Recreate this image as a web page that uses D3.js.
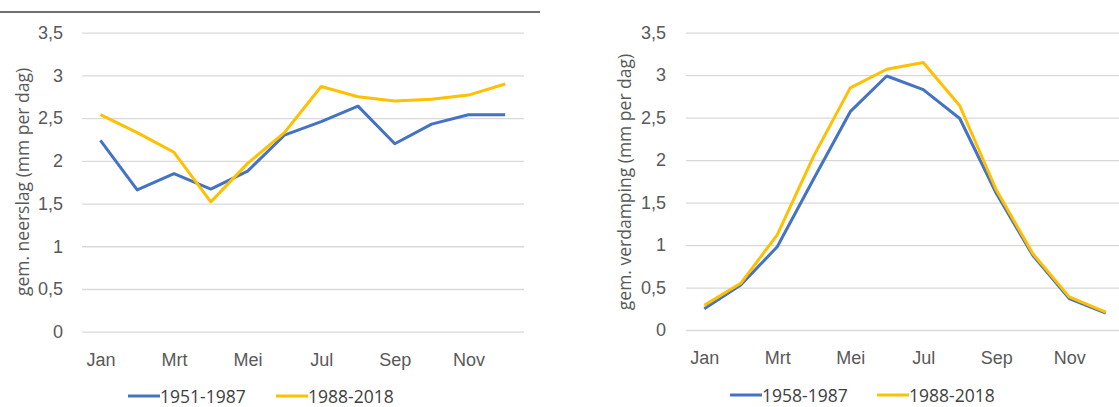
<!DOCTYPE html>
<html>
<head>
<meta charset="utf-8">
<script src="https://cdn.jsdelivr.net/npm/d3@7"></script>
<style>
  body { margin: 0; background: #fff; }
  svg { display: block; font-family: "Open Sans", sans-serif; }
</style>
</head>
<body>
<svg id="chart" width="1119" height="407"></svg>
<script>
const months = ["Jan", "Feb", "Mrt", "Apr", "Mei", "Jun", "Jul", "Aug", "Sep", "Okt", "Nov", "Dec"];
const shownMonths = ["Jan", "Mrt", "Mei", "Jul", "Sep", "Nov"];
const yTicks = [0, 0.5, 1, 1.5, 2, 2.5, 3, 3.5];

// neerslag
const rainOld = [2.24, 1.66, 1.85, 1.67, 1.88, 2.30, 2.46, 2.64, 2.20, 2.43, 2.54, 2.54];
const rainNew = [2.54, 2.33, 2.10, 1.52, 1.97, 2.33, 2.87, 2.75, 2.70, 2.72, 2.77, 2.90];
const rainNames = ["1951-1987", "1988-2018"];

// verdamping
const evapOld = [0.25, 0.53, 0.98, 1.78, 2.57, 2.99, 2.83, 2.49, 1.61, 0.88, 0.37, 0.20];
const evapNew = [0.29, 0.55, 1.12, 2.05, 2.85, 3.07, 3.15, 2.64, 1.65, 0.90, 0.39, 0.21];
const evapNames = ["1958-1987", "1988-2018"];

const colors = ["#4472C4", "#FFC000"];
const comma = (d) => String(d).replace(".", ",");

const svg = d3.select("#chart");

// dark line at the top of the left picture
svg.append("line")
  .attr("x1", 0).attr("x2", 540)
  .attr("y1", 12).attr("y2", 12)
  .attr("stroke", "#404040")
  .attr("stroke-width", 1.5);

drawChart({
  left: 82, band: 36.8, gridEnd: 524, y0: 331.7, y35: 32.7,
  tickX: 63, titleX: 22, titleY: 182, xLabelY: 360, legendY: 396,
  title: "gem. neerslag (mm per dag)",
  series: [rainOld, rainNew], names: rainNames,
  legendX: [128, 276],
});

drawChart({
  left: 686, band: 36.5, gridEnd: 1119, y0: 330, y35: 32.7,
  tickX: 666, titleX: 624, titleY: 182, xLabelY: 358, legendY: 395,
  title: "gem. verdamping (mm per dag)",
  series: [evapOld, evapNew], names: evapNames,
  legendX: [730, 877],
});

function drawChart(c) {
  const g = svg.append("g");

  const x = d3.scalePoint()
    .domain(months)
    .range([c.left, c.left + c.band * 12])
    .padding(0.5);

  const y = d3.scaleLinear().domain([0, 3.5]).range([c.y0, c.y35]);

  // gridlines + y labels
  const yAxis = g.append("g")
    .attr("transform", `translate(${c.left},0)`)
    .call(d3.axisLeft(y).tickValues(yTicks).tickFormat(comma)
      .tickSize(-(c.gridEnd - c.left)).tickPadding(c.left - c.tickX));
  yAxis.select(".domain").remove();
  yAxis.selectAll(".tick line").attr("stroke", "#d9d9d9").attr("stroke-width", 1.3);
  yAxis.selectAll(".tick text")
    .attr("fill", "#595959").attr("font-size", 18).attr("x", c.tickX - c.left);

  // x labels
  const xAxis = g.append("g")
    .attr("transform", `translate(0,${c.xLabelY})`)
    .call(d3.axisBottom(x).tickValues(shownMonths).tickSize(0).tickPadding(0));
  xAxis.select(".domain").remove();
  xAxis.selectAll(".tick text")
    .attr("fill", "#595959").attr("font-size", 18)
    .attr("dy", "0.35em");

  // axis title
  g.append("text")
    .attr("transform", `translate(${c.titleX},${c.titleY}) rotate(-90)`)
    .attr("text-anchor", "middle")
    .attr("dominant-baseline", "central")
    .attr("fill", "#595959")
    .attr("font-size", 17.5)
    .text(c.title);

  const line = d3.line()
    .x((d, i) => x(months[i]))
    .y((d) => y(d));

  c.series.forEach((s, i) => {
    g.append("path")
      .datum(s)
      .attr("fill", "none")
      .attr("stroke", colors[i])
      .attr("stroke-width", 3)
      .attr("stroke-linejoin", "round")
      .attr("d", line);
  });

  // legend
  c.names.forEach((name, i) => {
    const lx = c.legendX[i];
    g.append("line")
      .attr("x1", lx).attr("x2", lx + 32)
      .attr("y1", c.legendY).attr("y2", c.legendY)
      .attr("stroke", colors[i]).attr("stroke-width", 3);
    g.append("text")
      .attr("x", lx + 32).attr("y", c.legendY)
      .attr("dominant-baseline", "central")
      .attr("fill", "#404040")
      .attr("font-size", 17.5)
      .text(name);
  });
}
</script>
</body>
</html>
